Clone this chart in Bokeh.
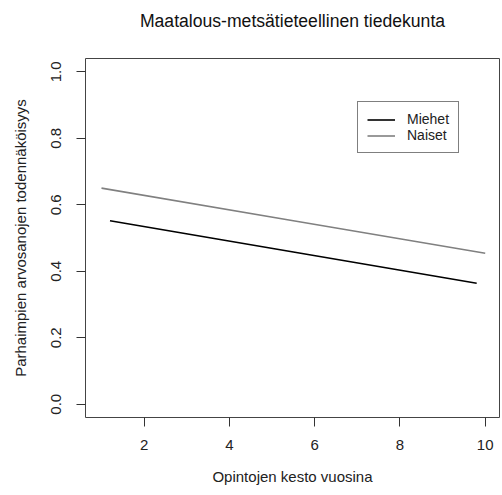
from bokeh.plotting import figure
from bokeh.models import Range1d, Legend, LegendItem, FixedTicker, LinearAxis
from bokeh.embed import file_html
from bokeh.resources import INLINE

title_text = "Maatalous-metsätieteellinen tiedekunta"
x_label = "Opintojen kesto vuosina"
y_label = "Parhaimpien arvosanojen todennäköisyys"

miehet_x = [1.2, 5.5, 9.8]
miehet_y = [0.552, 0.458, 0.364]
naiset_x = [1.0, 5.5, 10.0]
naiset_y = [0.650, 0.552, 0.454]

x_ticks = [2, 4, 6, 8, 10]
y_ticks = [0.0, 0.2, 0.4, 0.6, 0.8, 1.0]

FONT = "Liberation Sans"

p = figure(width=502, height=495, output_backend="svg", toolbar_location=None,
           x_range=Range1d(0.625, 10.335), y_range=Range1d(-0.04, 1.04))
p.min_border_left = 85
p.min_border_right = 3
p.min_border_top = 58
p.min_border_bottom = 78
p.background_fill_color = "white"
p.border_fill_color = "white"
p.grid.visible = False
p.outline_line_color = "#444444"
p.outline_line_width = 1

xax = p.below[0]
yax = p.left[0]

for ax in (xax, yax):
    ax.axis_line_color = None
    ax.major_tick_line_color = "#333333"
    ax.major_tick_in = 0
    ax.major_tick_out = 9
    ax.minor_tick_line_color = None
    ax.major_label_text_font = FONT
    ax.major_label_text_font_size = "15px"
    ax.major_label_text_color = "#222222"
    ax.axis_label_text_font = FONT
    ax.axis_label_text_font_size = "15px"
    ax.axis_label_text_font_style = "normal"
    ax.axis_label_text_color = "#222222"

xax.ticker = FixedTicker(ticks=x_ticks)
yax.ticker = FixedTicker(ticks=y_ticks)
yax.major_label_overrides = {t: f"{t:.1f}" for t in y_ticks}
yax.major_label_orientation = "vertical"
xax.axis_label = x_label
yax.axis_label = y_label
xax.major_label_standoff = 13
xax.axis_label_standoff = 15
yax.major_label_standoff = 15
yax.axis_label_standoff = 20

# title drawn as the label of a bare axis above the frame
title_axis = LinearAxis(ticker=FixedTicker(ticks=[]), axis_label=title_text)
title_axis.axis_line_color = None
title_axis.major_tick_line_color = None
title_axis.minor_tick_line_color = None
title_axis.major_tick_out = 0
title_axis.major_tick_in = 0
title_axis.major_label_standoff = 0
title_axis.major_label_text_font_size = "0px"
title_axis.axis_label_standoff = 28
title_axis.axis_label_text_font = FONT
title_axis.axis_label_text_font_size = "17.6px"
title_axis.axis_label_text_font_style = "normal"
title_axis.axis_label_text_color = "#111111"
p.add_layout(title_axis, "above")

r1 = p.line(miehet_x, miehet_y, line_color="black", line_width=1.6)
r2 = p.line(naiset_x, naiset_y, line_color="#808080", line_width=1.6)

legend = Legend(items=[LegendItem(label="Miehet", renderers=[r1]),
                       LegendItem(label="Naiset", renderers=[r2])],
                location=(272, 264))
legend.margin = 0
legend.border_line_color = "black"
legend.border_line_width = 1
legend.label_text_font = FONT
legend.label_text_font_size = "14px"
legend.label_text_color = "#222222"
legend.glyph_width = 28
legend.glyph_height = 13
legend.label_height = 13
legend.spacing = 0
legend.padding = 9
legend.label_standoff = 12
legend.background_fill_alpha = 1
p.add_layout(legend)

open("out.html", "w").write(file_html(p, INLINE))
